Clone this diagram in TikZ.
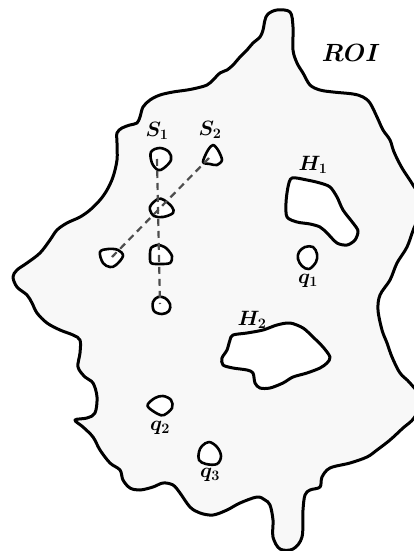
\documentclass[tikz,border=0pt]{standalone}
\usepackage{bm}
\definecolor{roifill}{HTML}{F8F8F8}
\definecolor{dashgray}{HTML}{4D4D4D}
\tikzset{
  outline/.style={draw=black,line width=3pt,line join=round},
  hole/.style={draw=black,fill=white,line width=3pt,line join=round},
  pebble/.style={draw=black,fill=white,line width=2.6pt,line join=round},
  pathline/.style={draw=dashgray,line width=2.2pt,dash pattern=on 7pt off 5pt},
  lbl/.style={inner sep=0pt,font=\fontsize{20.74}{23}\selectfont},
  biglbl/.style={inner sep=0pt,font=\fontsize{24.88}{27}\selectfont}
}
\begin{document}
\begin{tikzpicture}[x=1pt,y=-1pt]
\useasboundingbox (0,0) rectangle (414,551);
\begin{scope}
\clip (0,0) rectangle (414,551);
% region of interest
\draw[outline,fill=roifill] plot[smooth cycle,tension=0.55] coordinates {
(277,10) (290,12) (293,27) (293,50) (297,63) (303,73) (310,85) (320,90) (333,92)
(353,94) (363,97) (370,103) (377,117) (383,130) (390,140) (394,152) (402,168) (413,185)
(424,205) (414,228) (407,247) (397,263) (390,280) (380,295) (378,310) (382,330) (387,343)
(392,357) (400,373) (410,383) (422,400) (414,418) (403,428) (390,440) (377,450) (367,457)
(350,463) (330,468) (322,477) (320,487) (310,490) (305,495) (303,510) (302,537) (293,549)
(280,549) (273,537) (273,520) (270,505) (265,500) (257,497) (240,503) (227,510) (213,515)
(200,513) (190,507) (180,493) (173,485) (163,483) (153,487) (140,490) (130,488) (123,480)
(120,470) (110,463) (100,450) (93,437) (83,427) (75,420) (87,418) (95,413) (97,397)
(93,383) (85,377) (78,367) (80,353) (80,340) (73,335) (60,330) (47,323) (37,313)
(32,303) (27,295) (17,287) (13,277) (17,270) (27,263) (40,253) (50,240) (57,230)
(67,223) (80,217) (90,210) (100,200) (107,190) (113,177) (117,160) (117,143) (117,133)
(122,128) (130,125) (137,123) (140,117) (143,107) (150,100) (160,95) (173,92) (187,90)
(197,88) (207,85) (213,80) (220,73) (227,70) (233,65) (240,57) (247,50) (253,43)
(260,37) (263,30) (265,20) (268,14)};
\end{scope}
% holes
\draw[hole] plot[smooth cycle,tension=0.5] coordinates {
(292,178) (307,180) (320,183) (330,187) (337,197) (343,210) (353,223) (358,231)
(355,240) (347,245) (337,243) (327,233) (320,227) (310,224) (297,222) (287,217)
(286,203) (288,187)};
\draw[hole] plot[smooth cycle,tension=0.5] coordinates {
(233,335) (247,333) (263,330) (277,325) (290,323) (303,328) (313,337) (323,347)
(330,357) (327,363) (320,368) (307,373) (293,377) (283,383) (270,388) (260,388)
(255,383) (253,373) (247,370) (233,368) (223,365) (222,358) (227,350) (230,340)};
% pebbles
\draw[pebble] plot[smooth cycle,tension=0.6] coordinates {(151,152) (160,148) (169,152) (171,160) (164,168) (158,170) (152,163)};
\draw[pebble] plot[smooth cycle,tension=0.5] coordinates {(203,162) (208,150) (213,145) (218,150) (222,160) (217,165) (210,164)};
\draw[pebble] plot[smooth cycle,tension=0.6] coordinates {(151,205) (158,199) (164,200) (172,207) (173,213) (163,217) (154,216) (150,210)};
\draw[pebble] plot[smooth cycle,tension=0.6] coordinates {(100,252) (108,249) (118,250) (123,256) (116,265) (110,267) (103,263)};
\draw[pebble] plot[smooth cycle,tension=0.5] coordinates {(151,248) (158,245) (166,248) (172,256) (170,263) (160,264) (151,263) (150,255)};
\draw[pebble] plot[smooth cycle,tension=0.6] coordinates {(153,302) (158,297) (165,298) (170,304) (169,311) (162,314) (154,311)};
\draw[pebble] plot[smooth cycle,tension=0.6] coordinates {(299,252) (305,247) (313,247) (317,254) (316,262) (309,269) (302,266) (298,259)};
\draw[pebble] plot[smooth cycle,tension=0.6] coordinates {(148,404) (155,398) (163,396) (171,400) (172,408) (164,415) (158,414) (149,408)};
\draw[pebble] plot[smooth cycle,tension=0.6] coordinates {(199,452) (202,446) (209,442) (217,447) (221,456) (217,464) (206,464) (199,460)};
% dashed paths
\coordinate (s1a) at (157,159);
\coordinate (s1b) at (160,304);
\coordinate (s2a) at (209,158);
\coordinate (s2b) at (112,257);
\draw[pathline] (s1a) -- (s1b);
\draw[pathline] (s2a) -- (s2b);
% labels
\node[biglbl] (roi) at (351,53) {$\bm{ROI}$};
\node[lbl] (ls1) at (157,131) {$\bm{S_1}$};
\node[lbl] (ls2) at (210,130) {$\bm{S_2}$};
\node[lbl] (lh1) at (313,165) {$\bm{H_1}$};
\node[lbl] (lq1) at (308,281) {$\bm{q_1}$};
\node[lbl] (lh2) at (252,320) {$\bm{H_2}$};
\node[lbl] (lq2) at (160,428) {$\bm{q_2}$};
\node[lbl] (lq3) at (210,475) {$\bm{q_3}$};
\end{tikzpicture}
\end{document}
